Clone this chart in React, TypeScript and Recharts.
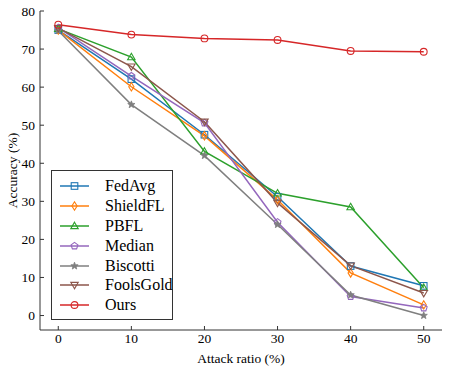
import { LineChart, Line, XAxis, YAxis, Legend, Label } from 'recharts';

const RATIOS = [0, 10, 20, 30, 40, 50];
const FEDAVG = [75.0, 62.1, 47.5, 31.2, 13.0, 7.8];
const SHIELDFL = [75.0, 60.1, 47.2, 30.4, 11.2, 2.8];
const PBFL = [75.3, 67.9, 43.1, 32.1, 28.5, 7.3];
const MEDIAN = [75.6, 62.9, 50.6, 24.5, 5.0, 2.0];
const BISCOTTI = [74.8, 55.4, 42.0, 23.9, 5.4, 0.0];
const FOOLSGOLD = [75.5, 65.4, 50.9, 29.6, 13.1, 5.9];
const OURS = [76.4, 73.8, 72.8, 72.4, 69.5, 69.3];

const X_TICKS = [0, 10, 20, 30, 40, 50];
const Y_TICKS = [0, 10, 20, 30, 40, 50, 60, 70, 80];

const SERIES = [
  { key: 'FedAvg', values: FEDAVG, color: '#1f77b4', marker: 'square' },
  { key: 'ShieldFL', values: SHIELDFL, color: '#ff7f0e', marker: 'diamond' },
  { key: 'PBFL', values: PBFL, color: '#2ca02c', marker: 'triUp' },
  { key: 'Median', values: MEDIAN, color: '#9467bd', marker: 'pentagon' },
  { key: 'Biscotti', values: BISCOTTI, color: '#7f7f7f', marker: 'star' },
  { key: 'FoolsGold', values: FOOLSGOLD, color: '#8c564b', marker: 'triDown' },
  { key: 'Ours', values: OURS, color: '#d62728', marker: 'circle' },
];

const data = RATIOS.map((r, i) => {
  const row: any = { ratio: r };
  SERIES.forEach((s) => (row[s.key] = s.values[i]));
  return row;
});

const FONT = "'Liberation Serif', 'DejaVu Serif', serif";
const AXIS = '#333';

function poly(cx: number, cy: number, n: number, r: number, rot: number, inner?: number) {
  const pts: string[] = [];
  const count = inner ? n * 2 : n;
  for (let i = 0; i < count; i++) {
    const rad = inner && i % 2 === 1 ? inner : r;
    const a = rot + (i * 2 * Math.PI) / count;
    pts.push(`${cx + rad * Math.cos(a)},${cy + rad * Math.sin(a)}`);
  }
  return pts.join(' ');
}

function Marker({ kind, cx, cy, color }: { kind: string; cx: number; cy: number; color: string }) {
  const common = { fill: 'none', stroke: color, strokeWidth: 1.1 };
  switch (kind) {
    case 'square':
      return <rect x={cx - 3.3} y={cy - 3.3} width={6.6} height={6.6} {...common} />;
    case 'diamond':
      return <polygon points={`${cx},${cy - 4.2} ${cx + 2.6},${cy} ${cx},${cy + 4.2} ${cx - 2.6},${cy}`} {...common} />;
    case 'triUp':
      return <polygon points={poly(cx, cy + 0.5, 3, 4.3, -Math.PI / 2)} {...common} />;
    case 'triDown':
      return <polygon points={poly(cx, cy - 0.5, 3, 4.3, Math.PI / 2)} {...common} />;
    case 'pentagon':
      return <polygon points={poly(cx, cy, 5, 3.6, -Math.PI / 2)} {...common} />;
    case 'star':
      return <polygon points={poly(cx, cy, 5, 3.8, -Math.PI / 2, 1.6)} fill={color} stroke={color} strokeWidth={0.8} />;
    default:
      return <circle cx={cx} cy={cy} r={3.4} {...common} />;
  }
}

const makeDot = (kind: string, color: string) => (props: any) => (
  <Marker key={`${kind}-${props.index}`} kind={kind} cx={props.cx} cy={props.cy} color={color} />
);

const LegendBox = () => (
  <div
    style={{
      border: `1px solid ${AXIS}`,
      background: '#fff',
      width: 122,
      height: 150,
      boxSizing: 'border-box',
      fontFamily: FONT,
      fontSize: 16,
      color: '#000',
      paddingTop: 5,
    }}
  >
    {SERIES.map((s) => (
      <div key={s.key} style={{ display: 'flex', alignItems: 'center', height: 19.9 }}>
        <svg width={46} height={14} style={{ marginLeft: 7, flex: 'none' }}>
          <line x1={1} y1={7} x2={30} y2={7} stroke={s.color} strokeWidth={1.5} />
          <Marker kind={s.marker} cx={15.5} cy={7} color={s.color} />
        </svg>
        <span style={{ lineHeight: '16px' }}>{s.key}</span>
      </div>
    ))}
  </div>
);

const TickText = ({ x, y, payload, textAnchor, axis }: any) => (
  <text
    x={x}
    y={y}
    textAnchor={textAnchor}
    dy={axis === 'x' ? 10 : 4.5}
    fontFamily={FONT}
    fontSize={13.5}
    fill="#000"
  >
    {payload.value}
  </text>
);

export default function App() {
  return (
    <div style={{ position: 'fixed', left: 0, top: 0, width: 449, height: 369, background: '#fff', fontFamily: FONT }}>
      <LineChart width={449} height={369} data={data} margin={{ top: 11, right: 7, bottom: 0, left: 10 }} style={{ fontFamily: FONT }}>
        <XAxis
          dataKey="ratio"
          type="number"
          domain={[-2.5, 52.5]}
          ticks={X_TICKS}
          allowDataOverflow
          height={39}
          stroke={AXIS}
          tickSize={-4}
          tickMargin={7}
          tick={<TickText axis="x" />}
        >
          <Label
            value="Attack ratio (%)"
            position="insideBottom"
            offset={6}
            fontFamily={FONT}
            fontSize={13.5}
            fill="#000"
          />
        </XAxis>
        <XAxis
          xAxisId="top"
          orientation="top"
          dataKey="ratio"
          type="number"
          domain={[-2.5, 52.5]}
          ticks={X_TICKS}
          allowDataOverflow
          height={0}
          stroke={AXIS}
          tickSize={-4}
          tick={false}
        />
        <YAxis
          type="number"
          domain={[-3.8, 80]}
          ticks={Y_TICKS}
          allowDataOverflow
          width={30}
          stroke={AXIS}
          tickSize={-4}
          tickMargin={9}
          tick={<TickText axis="y" />}
        >
          <Label
            value="Accuracy (%)"
            angle={-90}
            position="center"
            dx={-13}
            fontFamily={FONT}
            fontSize={13.5}
            fill="#000"
          />
        </YAxis>
        <YAxis
          yAxisId="right"
          orientation="right"
          type="number"
          domain={[-3.8, 80]}
          ticks={Y_TICKS}
          allowDataOverflow
          width={0}
          stroke={AXIS}
          tickSize={-4}
          tick={false}
        />
        {SERIES.map((s) => (
          <Line
            key={s.key}
            dataKey={s.key}
            stroke={s.color}
            strokeWidth={1.5}
            dot={makeDot(s.marker, s.color)}
            activeDot={false}
            isAnimationActive={false}
          />
        ))}
        <Legend
          layout="horizontal"
          verticalAlign="middle"
          content={() => <LegendBox />}
          wrapperStyle={{ position: 'absolute', left: 51, top: 170, width: 124, height: 152 }}
        />
      </LineChart>
    </div>
  );
}
